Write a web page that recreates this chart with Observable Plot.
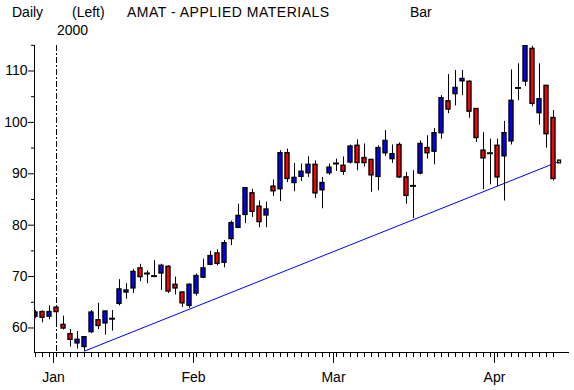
<!DOCTYPE html>
<html><head><meta charset="utf-8">
<script src="https://cdn.jsdelivr.net/npm/d3@7"></script>
<script src="https://cdn.jsdelivr.net/npm/@observablehq/plot@0.6"></script>
<style>html,body{margin:0;padding:0;background:#fff}#chart{width:574px;height:390px}</style>
</head><body><div id="chart"></div>
<script>
// Daily OHLC, trading-day index 0..74 (late Dec 1999 .. mid Apr 2000)
const opens  = [62.2,63.1,62.2,63.95,60.6,58.8,57.0,56.3,59.2,61.5,60.9,61.8,64.7,66.9,67.7,71.6,70.6,70.1,70.6,71.9,68.4,66.9,64.3,66.7,69.8,72.3,74.5,72.7,77.3,79.5,82.0,86.2,83.6,81.9,87.5,87.0,94.0,88.2,89.4,90.1,91.75,86.8,90.1,92.0,91.55,92.2,95.45,93.05,92.7,89.4,94.0,92.85,95.6,89.3,87.65,90.05,95.0,94.3,97.9,104.1,105.5,108.0,107.9,102.6,94.5,94.0,95.45,93.4,96.3,106.7,107.95,114.3,101.8,107.1,100.85];
const highs  = [63.4,63.3,64.3,64.0,62.3,59.7,59.3,58.3,63.4,64.8,63.3,63.4,69.4,68.6,71.4,72.4,71.1,73.1,72.4,72.1,69.9,67.0,68.6,70.5,73.4,74.9,75.2,77.0,80.8,84.1,87.3,87.0,84.7,84.5,88.8,94.5,94.8,92.0,91.9,93.3,92.5,89.3,91.9,92.85,93.3,95.6,96.6,95.8,92.8,95.45,98.4,95.6,96.0,90.25,90.6,96.4,97.4,98.8,105.2,109.3,110.1,110.1,108.1,102.7,98.0,96.75,96.75,100.2,110.2,111.4,115.5,114.8,111.4,107.2,102.3];
const lows   = [61.8,61.0,61.6,60.1,59.6,56.3,55.9,55.5,58.9,59.7,58.6,59.4,64.3,65.6,66.7,69.0,68.6,69.8,67.3,66.7,66.4,64.0,63.8,66.2,69.6,72.1,72.1,71.7,76.0,79.3,80.3,81.5,79.5,79.5,85.6,84.6,88.3,86.5,88.5,89.3,85.2,83.2,89.7,90.45,89.7,91.9,90.6,91.3,86.4,86.7,93.4,92.0,89.1,84.1,81.3,89.8,92.9,91.75,96.75,101.7,103.2,105.2,100.8,96.1,86.9,87.85,87.5,84.7,95.6,104.2,107.0,103.05,99.45,95.0,88.6];
const closes = [63.0,62.0,63.1,63.1,59.9,57.7,57.7,58.2,63.0,60.4,63.2,61.8,67.5,67.3,70.9,69.9,70.6,70.1,72.1,67.1,67.7,64.8,68.4,70.1,71.6,74.0,72.5,76.5,80.4,81.8,87.2,82.6,80.6,83.05,86.6,94.0,89.0,89.2,90.4,91.75,86.2,88.2,91.2,92.0,90.4,95.3,92.1,92.1,89.7,95.0,96.4,93.8,89.3,85.7,87.65,95.8,94.0,97.9,104.7,102.5,106.7,108.45,102.1,96.95,93.0,94.0,89.3,97.9,104.2,106.7,114.9,103.6,104.5,97.7,89.0];

const monthTickIdx = [3, 23, 43, 66];
const monthLabels  = ["Jan", "Feb", "Mar", "Apr"];
const yMajorTicks  = [60, 70, 80, 90, 100, 110];
const yMinorTicks  = [65, 75, 85, 95, 105, 115];
const trendPoints  = [{i: 7, price: 55.5}, {i: 74.8, price: 92.4}];
const lastMarker   = [{i: 74.8, price: 92.4}];
const yearMark     = {i: 3, label: "2000"};
const headerTexts  = ["Daily", "(Left)", "AMAT - APPLIED MATERIALS", "Bar"];

const bars = opens.map((o, i) => ({
  i, open: o, high: highs[i], low: lows[i], close: closes[i],
  dir: closes[i] > o ? "up" : closes[i] < o ? "down" : "flat"
}));
const dayIdx = bars.map(d => d.i);

const xDomain = [-1/7, 76 + 2/7];
const yDomain = [55.23, 114.96];
const half = 2/7;

const chart = Plot.plot({
  width: 574, height: 390,
  marginLeft: 34, marginRight: 5, marginTop: 45, marginBottom: 38,
  style: {fontFamily: '"Liberation Sans", Arial, sans-serif', fontSize: "14px", color: "#000", background: "#fff"},
  x: {type: "linear", domain: xDomain},
  y: {type: "linear", domain: yDomain},
  marks: [
    Plot.axisY(yMajorTicks, {anchor: "left", tickSize: 6, tickPadding: 1, label: null, fontSize: 14}),
    Plot.axisY(yMinorTicks, {anchor: "left", tickSize: 3, tickFormat: () => "", label: null}),
    Plot.axisX(dayIdx, {anchor: "bottom", tickSize: 5, tickFormat: () => "", label: null}),
    Plot.axisX(monthTickIdx, {anchor: "bottom", tickSize: 11, tickPadding: 9, label: null, fontSize: 14, dx: -3,
      tickFormat: d => monthLabels[monthTickIdx.indexOf(d)]}),
    Plot.ruleX([yearMark.i], {stroke: "#000", strokeDasharray: "6,2,2,2"}),
    Plot.line(trendPoints, {x: "i", y: "price", stroke: "#0000ff", strokeWidth: 1}),
    Plot.ruleX(bars, {x: "i", y1: "low", y2: "high", stroke: "#000", strokeWidth: 1, clip: true}),
    Plot.rect(bars.filter(d => d.dir === "up"), {x1: d => d.i - half, x2: d => d.i + half, y1: "open", y2: "close", fill: "#0000ff", stroke: "#000", strokeWidth: 1.4, clip: true}),
    Plot.rect(bars.filter(d => d.dir === "down"), {x1: d => d.i - half, x2: d => d.i + half, y1: "open", y2: "close", fill: "#ff0000", stroke: "#000", strokeWidth: 1.4, clip: true}),
    Plot.ruleY(bars.filter(d => d.dir === "flat"), {y: "open", x1: d => d.i - 0.42, x2: d => d.i + 0.42, stroke: "#000", strokeWidth: 2, clip: true}),
    Plot.dot(lastMarker, {x: "i", y: "price", symbol: "square", r: 2.3, fill: "#000", stroke: "none"}),
    Plot.dot(lastMarker, {x: "i", y: "price", symbol: "square", r: 0.8, fill: "#ffff00", stroke: "none"}),
    Plot.ruleX([xDomain[0]], {stroke: "#000"}),
    Plot.ruleY([yDomain[0]], {stroke: "#000"})
  ]
});

document.getElementById("chart").appendChild(chart);

// header texts
const svg = d3.select(chart);
const hx = [12, 72, 127, 410];
const spacing = [0, 0, 0.5, 0];
const fontCss = '"Liberation Sans", Arial, sans-serif';
headerTexts.forEach((t, k) => {
  svg.append("text").attr("x", hx[k]).attr("y", 17).attr("text-anchor", "start")
    .attr("letter-spacing", spacing[k])
    .attr("font-family", fontCss).attr("font-size", 14).attr("fill", "#000").text(t);
});
const xs = chart.scale("x");
svg.append("text").attr("x", xs.apply(yearMark.i) + 1).attr("y", 35).attr("text-anchor", "start")
  .attr("font-family", fontCss).attr("font-size", 14).attr("fill", "#000").text(yearMark.label);
</script>
</body></html>
